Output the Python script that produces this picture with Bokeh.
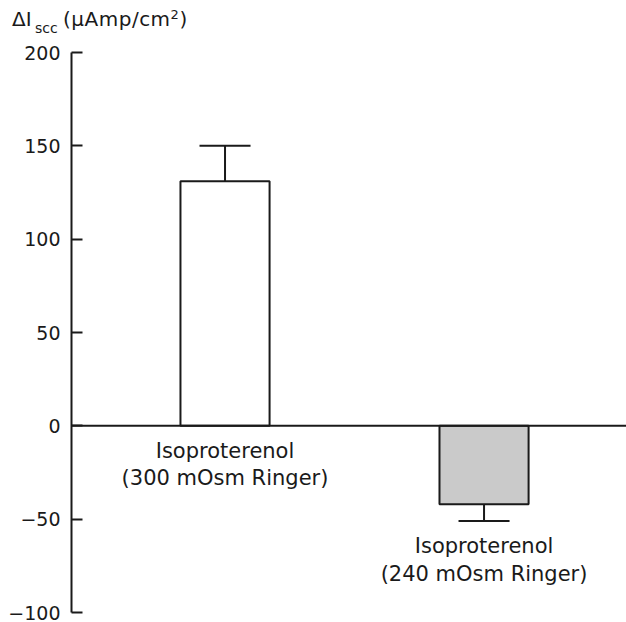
from bokeh.plotting import figure
from bokeh.models import Range1d, FixedTicker, Span, Div
from bokeh.layouts import column
from bokeh.core.properties import value
from bokeh.embed import file_html
from bokeh.resources import INLINE

# ---- data ----
positions = [1, 2]
means = [131, -42]
errors = [19, 9]
fills = ["#ffffff", "#cacaca"]
label_line1 = ["Isoproterenol", "Isoproterenol"]
label_line2 = ["(300 mOsm Ringer)", "(240 mOsm Ringer)"]
y_ticks = [-100, -50, 0, 50, 100, 150, 200]
y_tick_labels = ["\u2212100", "\u221250", "0", "50", "100", "150", "200"]
y_title_main = "\u0394I"
y_title_sub = "scc"
y_title_unit = "(\u03bcAmp/cm"
y_title_sup = "2"

FONT = "DejaVu Sans"
INK = "#1a1a1a"

# ---- y-axis title (HTML, with subscript / superscript) ----
title_html = (
    '<div style="position:relative;width:626px;height:37px;'
    'font-family:\'DejaVu Sans\';color:%s;">' % INK +
    '<span style="position:absolute;left:12px;top:9px;font-size:20px;line-height:20px;'
    'white-space:nowrap;">%s</span>' % y_title_main +
    '<span style="position:absolute;left:35px;top:21px;font-size:14px;line-height:14px;'
    'white-space:nowrap;">%s</span>' % y_title_sub +
    '<span style="position:absolute;left:63px;top:9px;font-size:20px;line-height:20px;'
    'letter-spacing:0.5px;white-space:nowrap;">%s<span style="font-size:13px;line-height:0;'
    'vertical-align:7px;">%s</span>)</span>' % (y_title_unit, y_title_sup) +
    '</div>'
)
title_div = Div(text=title_html, width=626, height=37, margin=0)

x_start, x_end = 0.4073, 2.550
p = figure(width=626, height=585, output_backend="svg", toolbar_location=None,
           x_range=Range1d(x_start, x_end), y_range=Range1d(-100, 200),
           x_axis_location=None, min_border_left=71, min_border_right=0,
           min_border_top=15, min_border_bottom=10, margin=0)
p.outline_line_color = None
p.xgrid.visible = False
p.ygrid.visible = False
p.background_fill_color = "white"
p.border_fill_color = "white"

ax = p.yaxis[0]
ax.ticker = FixedTicker(ticks=y_ticks)
ax.major_label_overrides = {t: s for t, s in zip(y_ticks, y_tick_labels)}
ax.major_tick_in = 11
ax.major_tick_out = 0
ax.minor_tick_line_color = None
ax.axis_line_width = 2
ax.axis_line_color = INK
ax.major_tick_line_width = 2
ax.major_tick_line_color = INK
ax.major_label_standoff = 11
ax.major_label_text_font = FONT
ax.major_label_text_font_size = "19px"
ax.major_label_text_color = INK

bar_w = 0.344
cap_w = 0.197

p.vbar(x=positions, top=means, bottom=0, width=bar_w, fill_color=fills,
       line_color=INK, line_width=2)

ends = [m + (e if m >= 0 else -e) for m, e in zip(means, errors)]
p.segment(x0=positions, y0=means, x1=positions, y1=ends, line_color=INK, line_width=2)
p.segment(x0=[x - cap_w / 2 for x in positions], y0=ends,
          x1=[x + cap_w / 2 for x in positions], y1=ends, line_color=INK, line_width=2)

p.add_layout(Span(location=0, dimension="width", line_color=INK, line_width=2))

anchors = [min(0, e) for e in ends]
for lines, off in ((label_line1, 25), (label_line2, 52.5)):
    p.text(x=positions, y=anchors, text=lines, text_align="center",
           text_baseline="alphabetic", y_offset=off, text_font=value(FONT),
           text_font_size="21px", text_color=INK)

layout = column(title_div, p, spacing=0, margin=0)
open("out.html", "w").write(file_html(layout, INLINE))
